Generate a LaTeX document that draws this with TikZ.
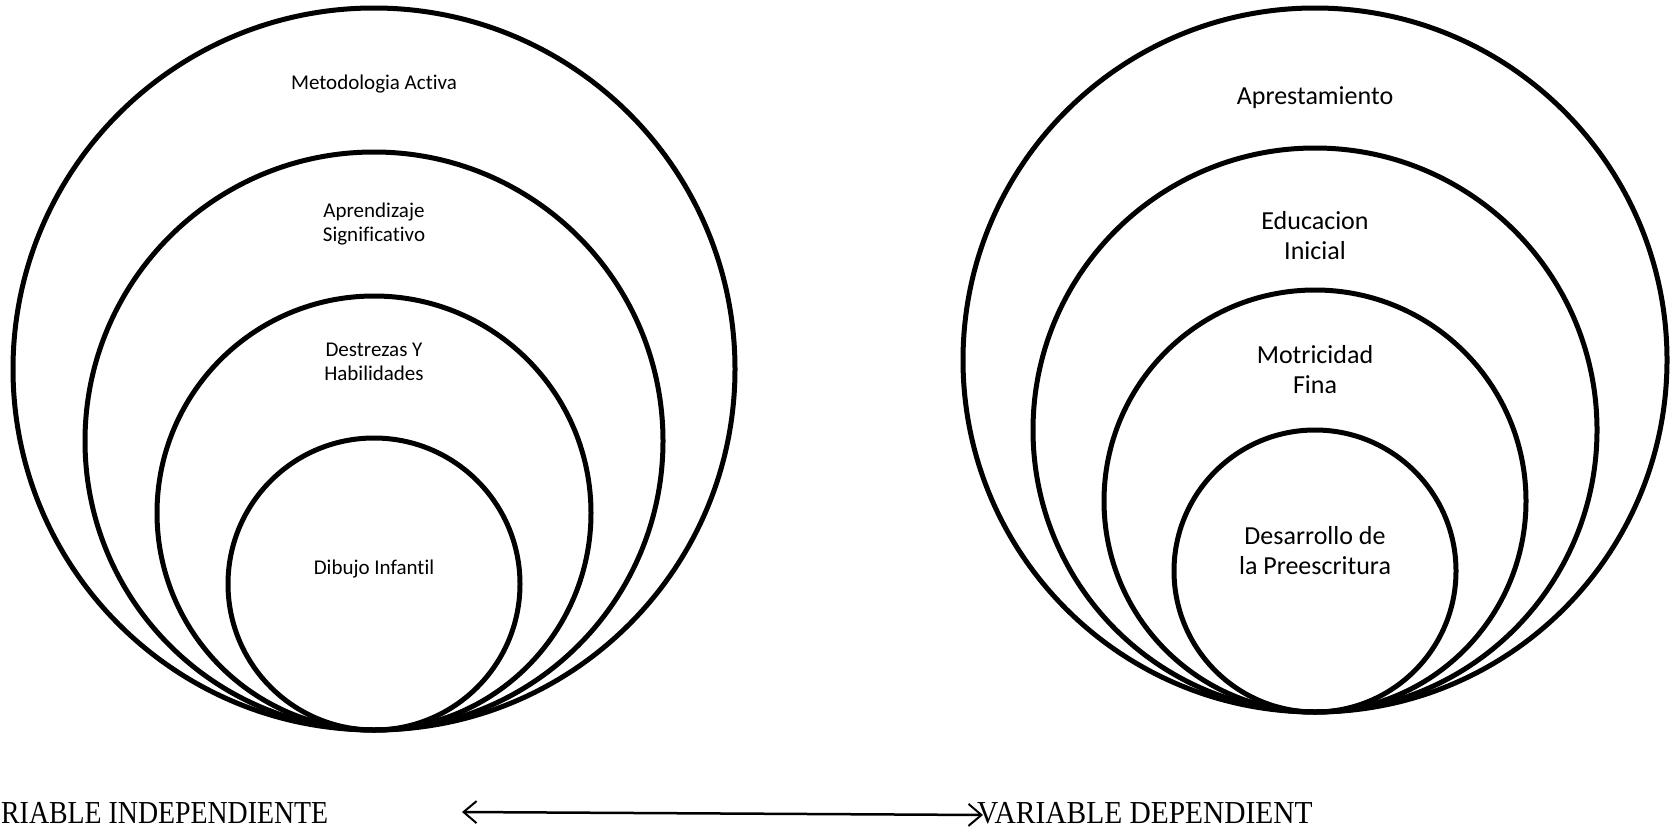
\documentclass[tikz,border=0pt]{standalone}
\usepackage{fontspec}
\setmainfont{Liberation Serif}
\newfontfamily\calib[Ligatures=NoCommon]{Carlito}
\usetikzlibrary{arrows.meta}
\tikzset{
  ring/.style={draw=black, line width=5pt, circle, inner sep=0pt, outer sep=0pt},
  smalltxt/.style={align=center, font=\calib\fontsize{21}{23.5}\selectfont, inner sep=0pt},
  bigtxt/.style={align=center, font=\calib\fontsize{26}{30}\selectfont, inner sep=0pt},
  vartxt/.style={font=\fontsize{32}{36}\selectfont, inner sep=0pt},
}
\begin{document}
\begin{tikzpicture}[x=1pt,y=-1pt]
\useasboundingbox (0,0) rectangle (1672,827);
% left set
\node[ring, minimum size=722pt] (L1) at (374,369) {};
\node[ring, minimum size=578pt] (L2) at (374,441) {};
\node[ring, minimum size=434pt] (L3) at (374,513) {};
\node[ring, minimum size=292pt] (L4) at (374,584) {};
\node[smalltxt] (tL1) at (374,84) {Metodologia Activa};
\node[smalltxt] (tL2) at (374,224) {Aprendizaje\\Significativo};
\node[smalltxt] (tL3) at (374,362) {Destrezas Y\\Habilidades};
\node[smalltxt] (tL4) at (374,569) {Dibujo Infantil};
% right set
\node[ring, minimum size=704pt] (R1) at (1315,360) {};
\node[ring, minimum size=564pt] (R2) at (1315,430) {};
\node[ring, minimum size=422pt] (R3) at (1315,501) {};
\node[ring, minimum size=282pt] (R4) at (1315,571) {};
\node[bigtxt] (tR1) at (1315,98) {Aprestamiento};
\node[bigtxt] (tR2) at (1315,236) {Educacion\\Inicial};
\node[bigtxt] (tR3) at (1315,370) {Motricidad\\Fina};
\node[bigtxt] (tR4) at (1315,551) {Desarrollo de\\la Preescritura};
% bottom labels
\node[vartxt, xscale=0.87, anchor=base west] (vi) at (1,823) {RIABLE INDEPENDIENTE};
\node[vartxt, xscale=0.92, anchor=base west] (vd) at (977,823) {VARIABLE DEPENDIENT};
\coordinate (aL) at (462,812);
\coordinate (aR) at (983,815);
\draw[line width=2.5pt, {Straight Barb[length=13pt,width=22pt,line width=2pt]}-{Straight Barb[length=13pt,width=22pt,line width=2pt]}] (aL) -- (aR);
\end{tikzpicture}
\end{document}
